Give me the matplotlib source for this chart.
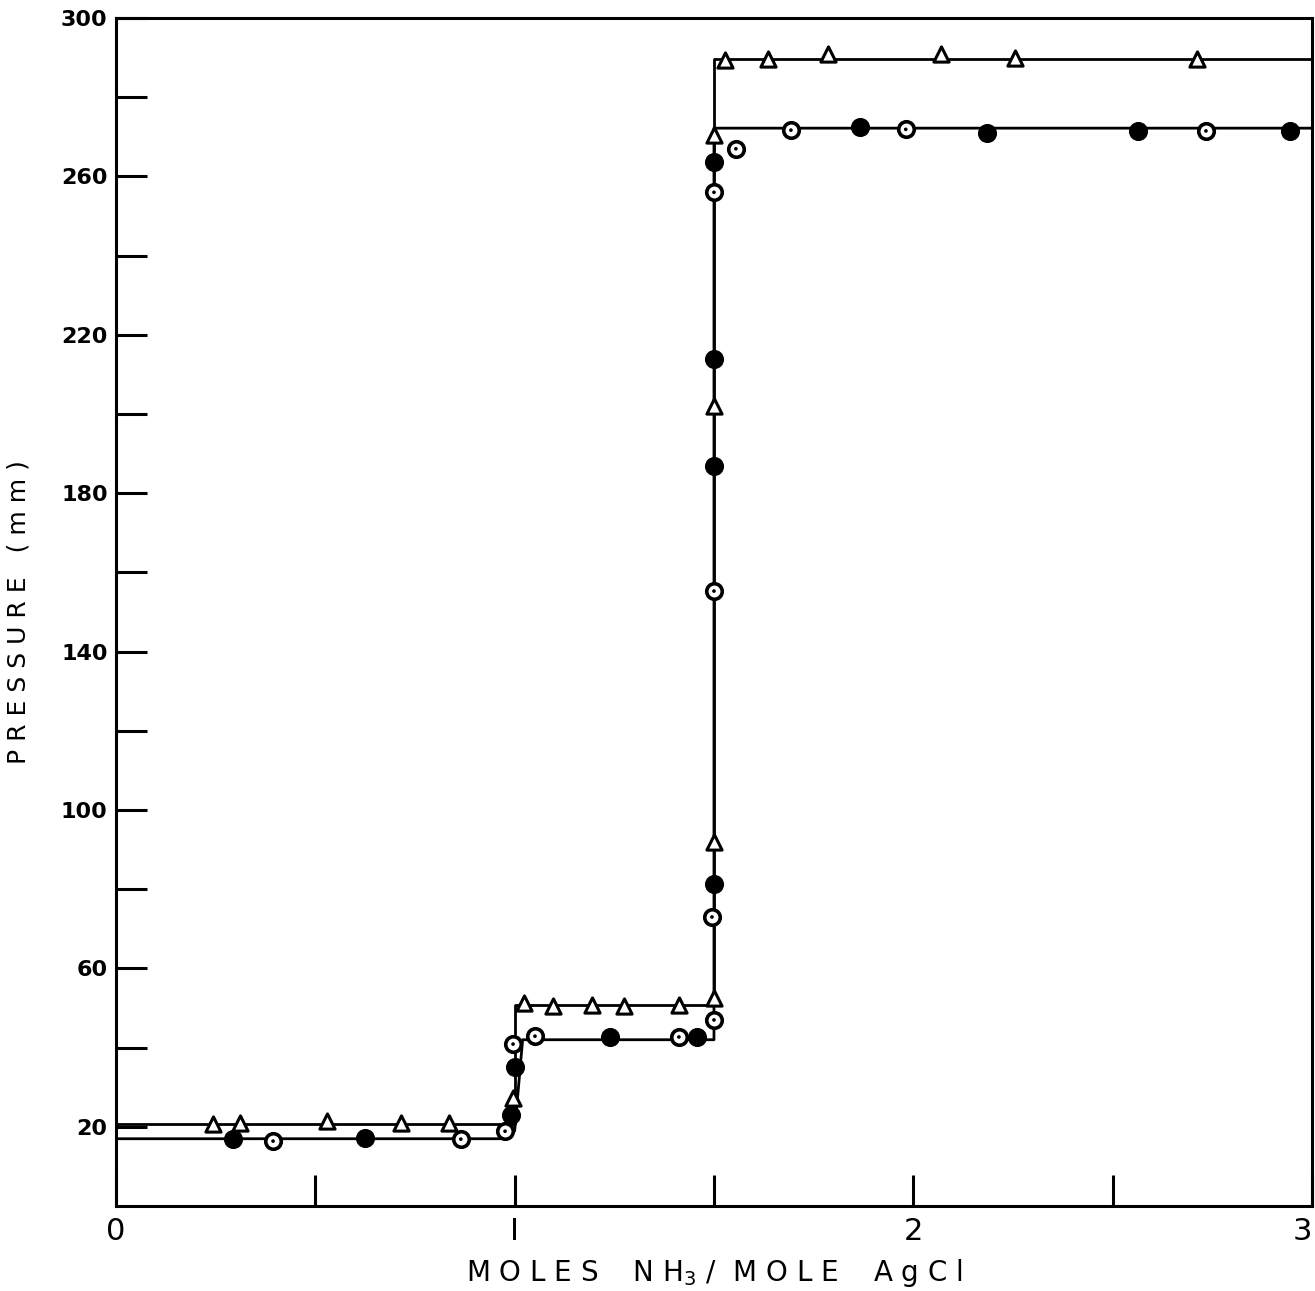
import matplotlib
matplotlib.use("Agg")
import matplotlib.pyplot as plt
import numpy as np

# step curves (x, y) drawn as polylines
upper_x = [0.0, 1.0, 1.0, 1.5, 1.5, 3.0]
upper_y = [20.8, 20.8, 50.8, 50.8, 289.6, 289.6]
lower_x = [0.0, 0.98, 1.0, 1.02, 1.5, 1.5, 3.0]
lower_y = [17.0, 17.0, 19.0, 42.0, 42.0, 272.2, 272.2]

# open triangles
tri_x = [0.243, 0.31, 0.53, 0.715, 0.835, 0.995,
         1.023, 1.096, 1.194, 1.274, 1.412,
         1.50, 1.50, 1.50, 1.50,
         1.527, 1.635, 1.786, 2.069, 2.255, 2.711]
tri_y = [20.7, 21.0, 21.5, 21.0, 21.0, 27.3,
         51.3, 50.6, 50.8, 50.6, 50.8,
         52.5, 92.0, 202.0, 270.5,
         289.4, 289.6, 291.0, 291.0, 290.0, 289.6]

# filled circles
fill_x = [0.293, 0.625, 0.99, 1.0, 1.239, 1.457,
          1.50, 1.50, 1.50, 1.50,
          1.866, 2.185, 2.563, 2.945]
fill_y = [16.9, 17.2, 23.0, 35.0, 42.7, 42.7,
          81.3, 187.0, 214.0, 263.6,
          272.5, 271.0, 271.5, 271.5]

# open circles (dotted centre)
open_x = [0.394, 0.865, 0.976, 0.996, 1.051, 1.412,
          1.50, 1.495, 1.50, 1.50, 1.555,
          1.693, 1.981, 2.734]
open_y = [16.4, 16.9, 18.9, 40.9, 42.9, 42.7,
          47.0, 73.0, 155.3, 256.0, 267.0,
          271.7, 271.9, 271.5]

yticks_major = [20, 60, 100, 140, 180, 220, 260, 300]
yticks_minor = [40, 80, 120, 160, 200, 240, 280]
xticks_major = [0, 1, 2, 3]
xticks_minor = [0.5, 1.5, 2.5]

fig = plt.figure(figsize=(13.15, 12.91), dpi=100)
ax = fig.add_axes([0.0882, 0.0658, 0.9095, 0.9202])

ax.plot(upper_x, upper_y, color="black", lw=2.0, zorder=2)
ax.plot(lower_x, lower_y, color="black", lw=2.0, zorder=2)

ax.scatter(tri_x, tri_y, marker="^", s=120, facecolor="white",
           edgecolor="black", linewidth=2.2, zorder=3)
ax.scatter(fill_x, fill_y, marker="o", s=150, facecolor="black",
           edgecolor="black", linewidth=1.5, zorder=3)
ax.scatter(open_x, open_y, marker="o", s=125, facecolor="white",
           edgecolor="black", linewidth=2.6, zorder=3)
ax.scatter(open_x, open_y, marker="o", s=7, facecolor="black",
           edgecolor="none", zorder=4)

ax.set_xlim(0, 3)
ax.set_ylim(0, 300)

ax.set_yticks(yticks_major)
ax.set_yticks(yticks_minor, minor=True)
ax.set_xticks(xticks_major)
ax.set_xticks(xticks_minor, minor=True)
ax.set_xticklabels(["0", "I", "2", "3"])

for s in ax.spines.values():
    s.set_linewidth(2.2)

ax.tick_params(axis="both", which="both", direction="in", width=2.2,
               length=22, labelsize=16)
ax.tick_params(axis="x", which="major", labelsize=22, pad=8)
ax.tick_params(axis="y", which="major", pad=6)
for lab in ax.get_yticklabels():
    lab.set_fontweight("bold")
ax.get_xticklabels()[-1].set_horizontalalignment("right")

ax.set_ylabel("P R E S S U R E   ( m m )", fontsize=18, labelpad=22)
ax.set_xlabel(r"M O L E S    N H$_{3}$ /  M O L E    A g C l", fontsize=20,
              labelpad=8)

fig.savefig("out.png", dpi=100)
